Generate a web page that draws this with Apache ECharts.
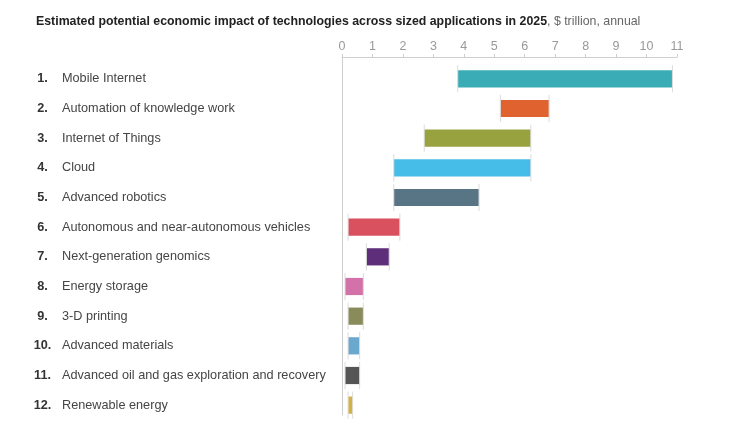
<!DOCTYPE html>
<html>
<head>
<meta charset="utf-8">
<script src="https://cdn.jsdelivr.net/npm/echarts@6/dist/echarts.min.js"></script>
<style>html,body{margin:0;padding:0;background:#fff;}#c{width:748px;height:434px;}</style>
</head>
<body>
<div id="c"></div>
<script>
const categories = [
  'Mobile Internet',
  'Automation of knowledge work',
  'Internet of Things',
  'Cloud',
  'Advanced robotics',
  'Autonomous and near-autonomous vehicles',
  'Next-generation genomics',
  'Energy storage',
  '3-D printing',
  'Advanced materials',
  'Advanced oil and gas exploration and recovery',
  'Renewable energy'
];
const lowValues  = [3.8, 5.2, 2.7, 1.7, 1.7, 0.2, 0.8, 0.1, 0.2, 0.2, 0.1, 0.2];
const highValues = [10.85, 6.8, 6.2, 6.2, 4.5, 1.9, 1.55, 0.7, 0.7, 0.58, 0.58, 0.35];
const xTicks = [0, 1, 2, 3, 4, 5, 6, 7, 8, 9, 10, 11];
const colors = ['#3aacb6', '#e0622f', '#98a23e', '#46bce8', '#587585', '#d9515f',
                '#5f2e7a', '#d272a8', '#8a8b5a', '#6ba8cd', '#555555', '#d5b23f'];

const font = 'Liberation Sans, Arial, sans-serif';
const chart = echarts.init(document.getElementById('c'));
const data = categories.map((c, i) => [i, lowValues[i], highValues[i]]);

chart.setOption({
  animation: false,
  title: {
    text: '{b|Estimated potential economic impact of technologies across sized applications in 2025}{n|, $ trillion, annual}',
    left: 36, top: 16, padding: 0,
    textStyle: {
      rich: {
        b: { fontFamily: font, fontWeight: 'bold', fontSize: 12.35, color: '#222' },
        n: { fontFamily: font, fontWeight: 'normal', fontSize: 12.35, color: '#666' }
      }
    }
  },
  grid: [
    { left: 342, right: 71, top: 56, bottom: 19 },
    { left: 342, right: 71, top: 64, bottom: 14 }
  ],
  xAxis: [
    {
      gridIndex: 0, type: 'value', position: 'top', offset: -1,
      min: xTicks[0], max: xTicks[xTicks.length - 1], interval: 1,
      axisLine: { show: true, onZero: false, lineStyle: { color: '#cfcfcf', width: 1 } },
      axisTick: { show: true, length: 3, lineStyle: { color: '#cfcfcf' } },
      axisLabel: { margin: 4, fontFamily: font, fontSize: 12.5, color: '#999' },
      splitLine: { show: false }
    },
    {
      gridIndex: 1, type: 'value', min: xTicks[0], max: xTicks[xTicks.length - 1], show: false
    }
  ],
  yAxis: [
    {
      gridIndex: 0, type: 'value',
      axisLine: { show: true, onZero: false, lineStyle: { color: '#cfcfcf', width: 1 } },
      axisTick: { show: false }, axisLabel: { show: false }, splitLine: { show: false }
    },
    {
      gridIndex: 1, type: 'category', inverse: true, data: categories,
      axisLine: { show: false }, axisTick: { show: false }, splitLine: { show: false },
      axisLabel: {
        align: 'left', margin: 312,
        formatter: (v, i) => '{num|' + (i + 1) + '.}{name|' + v + '}',
        rich: {
          num: { width: 25, align: 'right', fontFamily: font, fontWeight: 'bold', fontSize: 12.7, color: '#333' },
          name: { padding: [0, 0, 0, 7], fontFamily: font, fontSize: 12.7, color: '#454545' }
        }
      }
    }
  ],
  series: [{
    type: 'custom',
    xAxisIndex: 1, yAxisIndex: 1,
    encode: { x: [1, 2], y: 0 },
    data: data,
    renderItem: function (params, api) {
      const idx = api.value(0);
      const p0 = api.coord([api.value(1), idx]);
      const p1 = api.coord([api.value(2), idx]);
      const h = api.size([0, 1])[1] * 0.58;
      const cap = 5;
      return {
        type: 'group',
        children: [
          { type: 'rect', shape: { x: p0[0], y: p0[1] - h / 2, width: p1[0] - p0[0], height: h },
            style: { fill: colors[idx] } },
          { type: 'line', shape: { x1: p0[0], y1: p0[1] - h / 2 - cap, x2: p0[0], y2: p0[1] + h / 2 + cap },
            style: { stroke: '#dcdcdc', lineWidth: 1 } },
          { type: 'line', shape: { x1: p1[0], y1: p1[1] - h / 2 - cap, x2: p1[0], y2: p1[1] + h / 2 + cap },
            style: { stroke: '#dcdcdc', lineWidth: 1 } }
        ]
      };
    }
  }]
});
</script>
</body>
</html>
